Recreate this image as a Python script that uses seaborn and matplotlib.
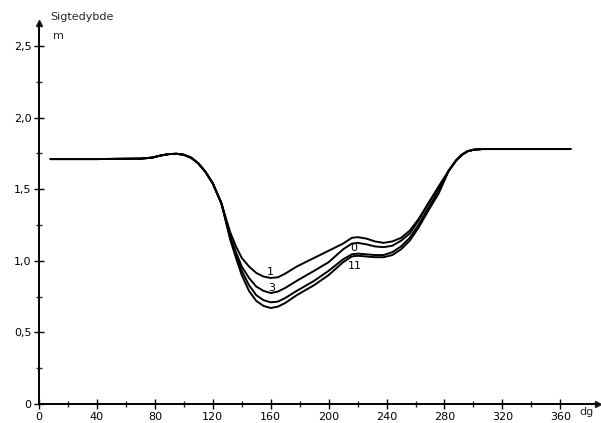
import numpy as np
import pandas as pd
import matplotlib
matplotlib.use("Agg")
import matplotlib.pyplot as plt
import seaborn as sns

# shared part of all curves (before they split / after they merge)
x_start = [8, 40, 70, 78, 84, 90, 95, 100, 105, 110, 115, 120, 126]
y_start = [1.71, 1.71, 1.713, 1.72, 1.735, 1.745, 1.747, 1.74, 1.72, 1.68, 1.62, 1.54, 1.40]
x_end = [283, 288, 292, 296, 300, 306, 367]
y_end = [1.63, 1.70, 1.74, 1.765, 1.775, 1.78, 1.78]

# split part
x_mid = [132, 136, 140, 145, 150, 155, 160, 165, 170, 178, 190, 200, 210, 216, 220, 226,
         232, 238, 244, 250, 256, 262, 270, 276]
curve_1 = [1.20, 1.10, 1.02, 0.96, 0.915, 0.89, 0.88, 0.885, 0.91, 0.96, 1.02, 1.07, 1.12,
           1.16, 1.165, 1.155, 1.135, 1.125, 1.135, 1.16, 1.21, 1.29, 1.42, 1.52]
curve_3 = [1.17, 1.06, 0.96, 0.88, 0.82, 0.79, 0.775, 0.785, 0.81, 0.86, 0.93, 0.99, 1.08,
           1.12, 1.125, 1.115, 1.10, 1.095, 1.105, 1.14, 1.19, 1.28, 1.42, 1.51]
curve_0 = [1.16, 1.04, 0.93, 0.83, 0.76, 0.725, 0.71, 0.715, 0.74, 0.79, 0.86, 0.93, 1.01,
           1.045, 1.05, 1.045, 1.04, 1.04, 1.06, 1.10, 1.16, 1.25, 1.39, 1.49]
curve_11 = [1.15, 1.02, 0.90, 0.79, 0.72, 0.685, 0.67, 0.68, 0.705, 0.76, 0.83, 0.90, 0.99,
            1.03, 1.035, 1.03, 1.025, 1.025, 1.04, 1.08, 1.14, 1.23, 1.37, 1.47]

curve_names = ["1", "3", "0", "11"]
curve_values = [curve_1, curve_3, curve_0, curve_11]
label_x = [160, 161, 217, 218]
label_y = [0.925, 0.81, 1.09, 0.965]

rows = []
for name, vals in zip(curve_names, curve_values):
    xs = x_start + x_mid + x_end
    ys = y_start + vals + y_end
    for xv, yv in zip(xs, ys):
        rows.append({"curve": name, "x": xv, "y": yv})
df = pd.DataFrame(rows)

sns.set_theme(style="white")
plt.rcParams['font.family'] = ['DejaVu Sans']

fig = plt.figure(figsize=(6.01, 4.23), dpi=100)
ax = fig.add_axes([39 / 601, 19 / 423, 559 / 601, 381 / 423])

for name in curve_names:
    sub = df[df["curve"] == name]
    sns.lineplot(data=sub, x="x", y="y", color="black", linewidth=1.4, ax=ax,
                 estimator=None, sort=False)

for name, lx, ly in zip(curve_names, label_x, label_y):
    ax.text(lx, ly, name, fontsize=8, ha="center", va="center", color="black")

ax.set_xlim(0, 386)
ax.set_ylim(0, 2.66)

ax.spines["top"].set_visible(False)
ax.spines["right"].set_visible(False)
ax.spines["left"].set_linewidth(1.4)
ax.spines["bottom"].set_linewidth(1.4)
ax.spines["left"].set_color("black")
ax.spines["bottom"].set_color("black")

xticks = [0, 40, 80, 120, 160, 200, 240, 280, 320, 360]
yticks = [0, 0.5, 1.0, 1.5, 2.0, 2.5]
ytick_labels = ["0", "0,5", "1,0", "1,5", "2,0", "2,5"]
ax.set_xticks(xticks)
ax.set_xticklabels([str(t) for t in xticks])
ax.set_yticks(yticks)
ax.set_yticklabels(ytick_labels)
ax.set_xticks(np.arange(20, 380, 40), minor=True)
ax.set_yticks(np.arange(0.25, 2.6, 0.5), minor=True)
ax.tick_params(axis="both", which="major", direction="inout", length=7, width=1,
               labelsize=8, colors="black", pad=2, bottom=True, left=True)
ax.tick_params(axis="both", which="minor", direction="inout", length=5, width=1,
               bottom=True, left=True)
ax.set_xlabel("")
ax.set_ylabel("")

# arrow heads on the axes
ax.plot(1, 0, ">k", markersize=5, transform=ax.get_yaxis_transform(), clip_on=False)
ax.plot(0, 1, "^k", markersize=5, transform=ax.get_xaxis_transform(), clip_on=False)

ax.text(378, -0.02, "dg", fontsize=8, ha="center", va="top")
ax.text(8, 2.70, "Sigtedybde", fontsize=8, ha="left", va="center", clip_on=False)
ax.text(10, 2.57, "m", fontsize=8, ha="left", va="center")

fig.savefig("out.png", dpi=100)
